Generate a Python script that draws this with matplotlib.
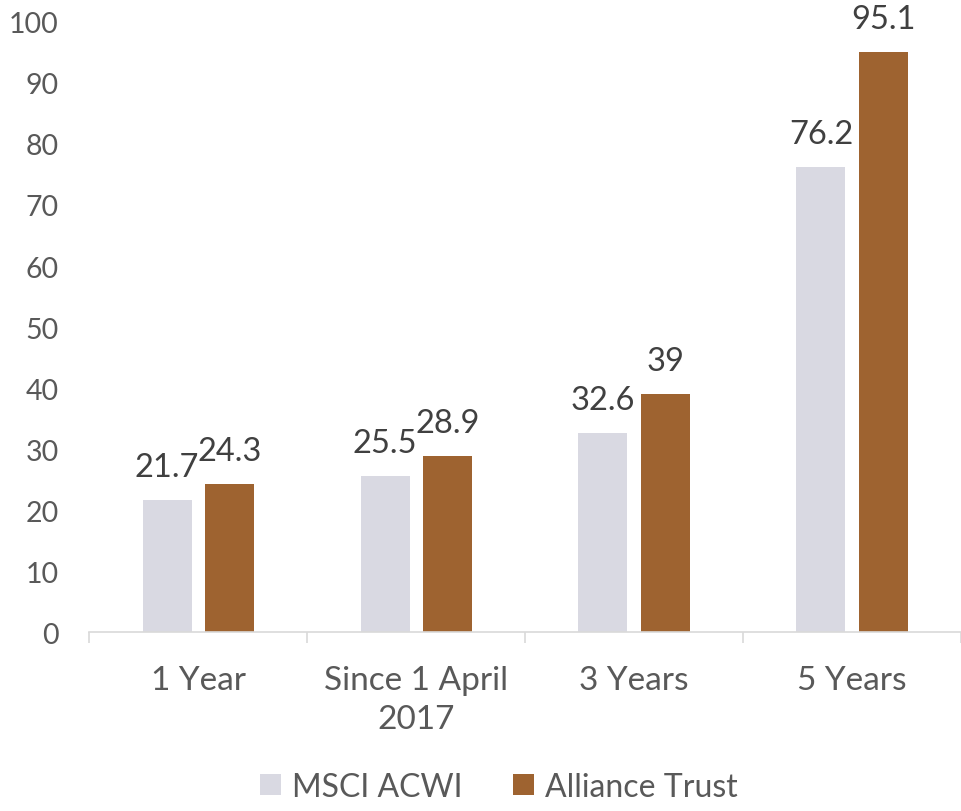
import matplotlib.pyplot as plt
import numpy as np

plt.rcParams['font.family'] = ['Lato', 'DejaVu Sans']

# data
categories = ['1 Year', 'Since 1 April\n2017', '3 Years', '5 Years']
msci = [21.7, 25.5, 32.6, 76.2]
alliance = [24.3, 28.9, 39, 95.1]
series_names = ['MSCI ACWI', 'Alliance Trust']

grey = '#D9D9E2'
brown = '#9E6330'
txt = '#595959'

fig = plt.figure(figsize=(9.61, 8.12), dpi=100)
ax = fig.add_axes([0.093, 0.2204, 0.907, 0.7513])

x = np.arange(len(categories))
w = 0.225
off = 0.143
b1 = ax.bar(x - off, msci, w, color=grey, label=series_names[0])
b2 = ax.bar(x + off, alliance, w, color=brown, label=series_names[1])

for bars, vals in [(b1, msci), (b2, alliance)]:
    for bar, v in zip(bars, vals):
        ax.annotate(f'{v:g}', (bar.get_x() + bar.get_width() / 2, v),
                    xytext=(0, 13), textcoords='offset points',
                    ha='center', va='bottom', fontsize=23.5, color='#404040')

ax.set_xlim(-0.5, len(categories) - 0.5)
ax.set_ylim(0, 100)
ax.set_yticks(np.arange(0, 101, 10))
ax.tick_params(axis='y', length=0, labelsize=20.5, labelcolor=txt, pad=22)

ax.set_xticks(x)
ax.set_xticklabels(categories, linespacing=1.35)
ax.tick_params(axis='x', length=0, labelsize=24, labelcolor=txt, pad=24)
ax.set_xticks(np.arange(-0.5, len(categories)), minor=True)
ax.tick_params(axis='x', which='minor', length=8, color='#D9D9D9', width=1.2)

for s in ['top', 'right', 'left']:
    ax.spines[s].set_visible(False)
ax.spines['bottom'].set_color('#D9D9D9')
ax.spines['bottom'].set_linewidth(1.2)

ax.legend(loc='lower center', bbox_to_anchor=(0.47, -0.278), ncol=2,
          frameon=False, fontsize=23, labelcolor=txt, borderpad=0,
          borderaxespad=0,
          handlelength=0.65, handleheight=0.65, handletextpad=0.35,
          columnspacing=1.6)

plt.savefig('out.png', dpi=100)
